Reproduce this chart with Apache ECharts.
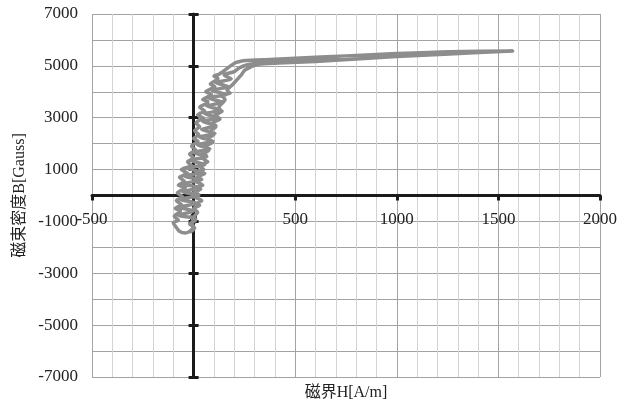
<!DOCTYPE html>
<html>
<head>
<meta charset="utf-8">
<script src="https://cdn.jsdelivr.net/npm/echarts@6/dist/echarts.min.js"></script>
<style>
  html, body { margin: 0; padding: 0; background: #fff; }
  #chart { width: 625px; height: 403px; }
</style>
</head>
<body>
<div id="chart"></div>
<script>
// B-H hysteresis loop of a soft magnetic sample.
// Points are [H in A/m, B in Gauss]; the loop is traced as three consecutive branches.

// rising branch: from negative remanence up to the saturation tip
const risingBranch = [
  [-15, -1400], [5, -1250], [-20, -1100], [10, -950], [-5, -870], [20, -650], [0, -500], [30, -380],
  [18, -300], [40, -200], [5, -50], [25, 40], [0, 100], [35, 250], [22, 330], [45, 400],
  [10, 550], [40, 620], [15, 700], [55, 850], [30, 900], [50, 1000], [25, 1150], [70, 1300],
  [50, 1400], [62, 1550], [40, 1600], [75, 1750], [60, 1900], [95, 2050], [70, 2200], [100, 2350],
  [85, 2500], [110, 2650], [95, 2800], [130, 2950], [105, 3100], [140, 3250], [120, 3150], [128, 3450],
  [155, 3700], [140, 3850], [180, 3950], [165, 4050], [188, 4250], [200, 4350], [212, 4450], [235, 4650],
  [253, 4840], [318, 5060], [420, 5110], [600, 5170], [800, 5260], [1000, 5360], [1260, 5460], [1570, 5570]
];

// falling branch: from the tip back down the left side of the loop
const fallingBranch = [
  [1260, 5545], [1000, 5475], [750, 5385], [500, 5290], [350, 5240], [260, 5205], [237, 5190], [210, 5130],
  [187, 5030], [155, 4840], [125, 4680], [100, 4600], [120, 4520], [112, 4450], [82, 4300], [105, 4200],
  [96, 4150], [60, 4000], [88, 3900], [80, 3850], [45, 3700], [70, 3620], [65, 3550], [30, 3400],
  [55, 3250], [35, 3180], [20, 3100], [50, 2980], [40, 2950], [12, 2800], [30, 2650], [18, 2580],
  [5, 2500], [25, 2350], [0, 2200], [22, 2100], [15, 2050], [-10, 1900], [10, 1750], [-5, 1680],
  [-20, 1600], [0, 1450], [-30, 1300], [-10, 1150], [-25, 1100], [-60, 1000], [-30, 850], [-50, 780],
  [-70, 700], [-45, 550], [-75, 400], [-40, 320], [-50, 250], [-80, 100], [-55, -50], [-70, -120],
  [-85, -200], [-60, -350], [-90, -500], [-65, -580], [-70, -650], [-95, -800], [-75, -950], [-100, -1050],
  [-88, -1200], [-70, -1380], [-40, -1450], [-15, -1350], [0, -1200], [-10, -1050]
];

// second rise, swinging across the loop, rejoining near the knee
const returnBranch = [
  [10, -900], [-75, -760], [0, -600], [-70, -450], [15, -300], [-65, -150], [25, 0], [-55, 150],
  [30, 300], [-50, 450], [35, 600], [-45, 750], [40, 900], [-30, 1050], [55, 1200], [-15, 1350],
  [65, 1500], [0, 1650], [80, 1800], [20, 1950], [95, 2100], [30, 2250], [105, 2400], [40, 2550],
  [110, 2700], [45, 2850], [120, 3000], [55, 3150], [135, 3300], [65, 3450], [145, 3600], [75, 3750],
  [160, 3900], [90, 4050], [170, 4200], [110, 4350], [185, 4500], [150, 4650], [200, 4780], [225, 4920],
  [265, 5040], [330, 5110], [450, 5160], [600, 5210], [720, 5250]
];

// Axis ranges and tick steps
const hRange = [-500, 2000];
const hStep = 500;
const bRange = [-7000, 7000];
const bStep = 1000;

const loopPoints = risingBranch.concat(fallingBranch, returnBranch);

const serif = "'Liberation Serif', 'DejaVu Serif', 'Noto Sans CJK JP', serif";
const labelFont = { fontFamily: serif, fontSize: 17, color: '#222' };
const axisBlack = { color: '#1b1b1b', width: 3 };

const chart = echarts.init(document.getElementById('chart'), null, { renderer: 'canvas' });

function buildOption(labelOffset) {
  return {
    animation: false,
    grid: { left: 92, right: 25, top: 14, bottom: 26, containLabel: false, outerBoundsMode: 'none' },
    xAxis: [
      {
        // black H axis crossing at B = 0, grid lines
        type: 'value', min: hRange[0], max: hRange[1], interval: hStep,
        axisLine: { show: true, onZero: true, onZeroAxisIndex: 0, lineStyle: axisBlack },
        axisTick: { show: true, inside: false, length: 5, lineStyle: axisBlack },
        axisLabel: { show: false },
        splitLine: { show: true, lineStyle: { color: '#a3a3a3', width: 1 } },
        minorTick: { show: false, splitNumber: 5 },
        minorSplitLine: { show: true, lineStyle: { color: '#d3d3d3', width: 1 } }
      },
      {
        // inner half of the crossing ticks on the H axis
        type: 'value', min: hRange[0], max: hRange[1], interval: hStep,
        axisLine: { show: false, onZero: true, onZeroAxisIndex: 0 },
        axisTick: { show: true, inside: true, length: 5, lineStyle: axisBlack },
        axisLabel: { show: false },
        splitLine: { show: false }
      },
      {
        // H tick labels, set just below the B = 0 line
        type: 'value', min: hRange[0], max: hRange[1], interval: hStep, position: 'bottom',
        offset: labelOffset,
        axisLine: { show: false, onZero: false },
        axisTick: { show: false },
        axisLabel: Object.assign({ margin: 16, formatter: v => String(v) }, labelFont),
        splitLine: { show: false }
      },
      {
        // title under the plot
        type: 'value', min: hRange[0], max: hRange[1], position: 'bottom',
        axisLine: { show: false, onZero: false },
        axisTick: { show: false }, axisLabel: { show: false }, splitLine: { show: false },
        name: '磁界H[A/m]', nameLocation: 'middle', nameGap: 8,
        nameTextStyle: { fontFamily: serif, fontSize: 16, color: '#222' }
      }
    ],
    yAxis: [
      {
        // B scale on the left with labels and horizontal grid
        type: 'value', min: bRange[0], max: bRange[1], interval: bStep, position: 'left',
        axisLine: { show: false, onZero: false },
        axisTick: { show: false },
        axisLabel: Object.assign({
          margin: 14,
          formatter: v => (Math.abs(Math.round(v / bStep)) % 2 === 1 ? String(v) : '')
        }, labelFont),
        splitLine: { show: true, lineStyle: { color: '#a3a3a3', width: 1 } },
        name: '磁束密度B[Gauss]', nameLocation: 'middle', nameGap: 57, nameRotate: 90,
        nameTextStyle: { fontFamily: serif, fontSize: 16, color: '#222' }
      },
      {
        // black vertical axis at H = 0, outer ticks every 2000 G
        type: 'value', min: 0, max: bRange[1] - bRange[0], interval: 2 * bStep,
        axisLine: { show: true, onZero: true, onZeroAxisIndex: 0, lineStyle: axisBlack },
        axisTick: { show: true, inside: false, length: 5, lineStyle: axisBlack },
        axisLabel: { show: false }, splitLine: { show: false }
      },
      {
        // inner half of the crossing ticks at H = 0
        type: 'value', min: 0, max: bRange[1] - bRange[0], interval: 2 * bStep,
        axisLine: { show: false, onZero: true, onZeroAxisIndex: 0 },
        axisTick: { show: true, inside: true, length: 5, lineStyle: axisBlack },
        axisLabel: { show: false }, splitLine: { show: false }
      }
    ],
    series: [
      {
        type: 'line',
        xAxisIndex: 0, yAxisIndex: 0,
        data: loopPoints,
        showSymbol: false,
        smooth: 0.25,
        lineStyle: { color: '#8d8d8d', width: 3.5, join: 'round', cap: 'round' },
        z: 5
      }
    ]
  };
}

chart.setOption(buildOption(0));
// move the H labels up so they sit under the B = 0 line
const zeroY = chart.convertToPixel({ yAxisIndex: 0 }, 0);
const bottomY = chart.convertToPixel({ yAxisIndex: 0 }, bRange[0]);
chart.setOption(buildOption(-(bottomY - zeroY)));
</script>
</body>
</html>
